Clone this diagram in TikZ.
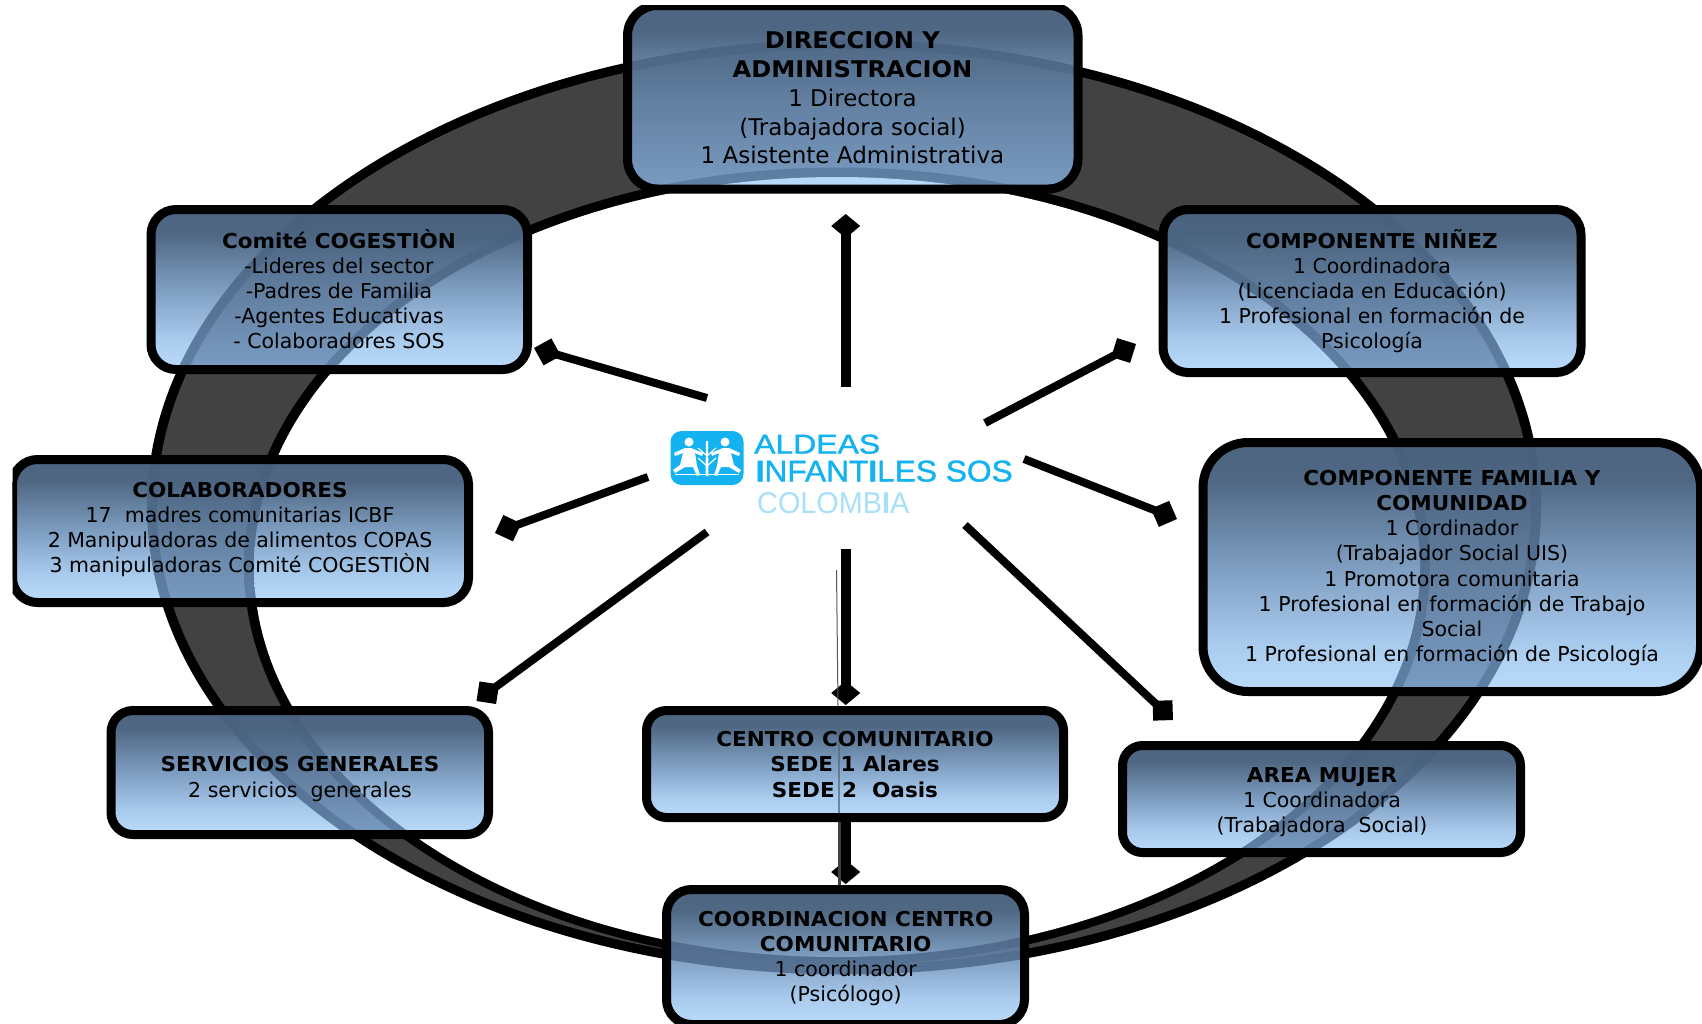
\documentclass[tikz,border=0pt]{standalone}
\usepackage{fontspec}
\setmainfont{DejaVu Sans}[BoldFeatures={FakeStretch=1.05}]
\newfontfamily\logofont{Liberation Sans}[FakeBold=1.2]
\newfontfamily\logolightfont{Liberation Sans}
\usetikzlibrary{arrows.meta}
\definecolor{ringgray}{HTML}{424242}
\definecolor{logoblue}{HTML}{14B2F0}
\definecolor{logolight}{HTML}{A8DFFB}
\definecolor{wa}{HTML}{4D6580}\definecolor{wb}{HTML}{4F6783}\definecolor{wc}{HTML}{7E9EC1}\definecolor{wd}{HTML}{A8CAEC}\definecolor{we}{HTML}{BBDCFB}
\definecolor{ga}{HTML}{4A627E}\definecolor{gb}{HTML}{4B6480}\definecolor{gc}{HTML}{617E9F}\definecolor{gd}{HTML}{7A9CC2}
\definecolor{ba}{HTML}{47607C}\definecolor{bb}{HTML}{49627F}\definecolor{bc}{HTML}{547091}\definecolor{bd}{HTML}{5F80A5}
\pgfdeclareverticalshading{wsh}{100bp}{color(0bp)=(we);color(25bp)=(we);color(35bp)=(wd);color(50bp)=(wc);color(67.5bp)=(wb);color(75bp)=(wa);color(100bp)=(wa)}
\pgfdeclareverticalshading{gsh}{100bp}{color(0bp)=(gd);color(25bp)=(gd);color(50bp)=(gc);color(67.5bp)=(gb);color(75bp)=(ga);color(100bp)=(ga)}
\pgfdeclareverticalshading{bsh}{100bp}{color(0bp)=(bd);color(25bp)=(bd);color(50bp)=(bc);color(67.5bp)=(bb);color(75bp)=(ba);color(100bp)=(ba)}
\def\panelfont{\fontsize{20.5}{25.1}\selectfont}
\def\panelextra{}
\tikzset{
  x=1pt,y=-1pt,
  wshade/.style={shading=wsh},
  gshade/.style={shading=gsh},
  bshade/.style={shading=bsh},
  panelbox/.style={draw=black,line width=9pt,inner sep=0pt,outer sep=0pt,shape=rectangle},
  paneltext/.style={align=center,inner sep=0pt,text=black,font=\panelfont},
  spoke/.style={line width=8pt,-{Diamond[length=28pt,width=28pt]}},
  vspoke/.style={line width=10pt,-{Diamond[length=24pt,width=29pt]}},
  logotext/.style={anchor=south west,inner sep=0pt,font=\logofont},
  elA/.style={x radius=697pt,y radius=467.5pt},
  elB/.style={x radius=687pt,y radius=458pt},
  elC/.style={x radius=593pt,y radius=399pt},
  elD/.style={x radius=583pt,y radius=390pt},
}
\newcommand{\panel}[9]{%
  \begin{scope}
    \clip[rounded corners=#6pt] (#2,#3) rectangle (#4,#5);
    \shade[wshade] (#2,#3) rectangle (#4,#5);
    \clip (844,507) ellipse [elA];
    \shade[bshade] (#2,#3) rectangle (#4,#5);
    \clip (844,507) ellipse [elB];
    \shade[gshade] (#2,#3) rectangle (#4,#5);
    \clip (837,566.5) ellipse [elC];
    \shade[bshade] (#2,#3) rectangle (#4,#5);
    \clip (837,567) ellipse [elD];
    \shade[wshade] (#2,#3) rectangle (#4,#5);
  \end{scope}
  \panelextra
  \node[panelbox,rounded corners=#6pt,minimum width={(#4-#2)*1pt},minimum height={(#5-#3)*1pt}]
    (#1) at ({(#2+#4)/2},{(#3+#5)/2}) {};
  \node[paneltext] (#1t) at (#7,#8) {#9};
}
\newcommand{\kid}[1]{%
  \fill[white] ({707+#1*18},442) circle [radius=4.5pt];
  \fill[white] ({707+#1*16},448) -- ({707+#1*22},448) -- ({707+#1*33},453) -- ({707+#1*32},456)
     -- ({707+#1*24},453) -- ({707+#1*27},465) -- ({707+#1*34},470) -- ({707+#1*32},473) -- ({707+#1*22},467)
     -- ({707+#1*14},467) -- ({707+#1*10},476) -- ({707+#1*7},475) -- ({707+#1*10},466) -- ({707+#1*12},453)
     -- ({707+#1*5},456) -- ({707+#1*4},453) -- cycle;
}
\begin{document}
\begin{tikzpicture}
\useasboundingbox (0,0) rectangle (1702,1023);
\begin{scope}
\clip (12.5,5) rectangle (1702,1025);
% ring
\fill[black] (844,507) ellipse [elA];
\fill[ringgray] (844,507) ellipse [elB];
\fill[black] (837,566.5) ellipse [elC];
\fill[white] (837,567) ellipse [elD];
% logo
\node[fill=logoblue,rounded corners=11pt,minimum width=73pt,minimum height=54pt,inner sep=0pt] (logo) at (707,458) {};
\kid{1}\kid{-1}
\fill[white] (706,441) -- (708,441) -- (708.5,476) -- (705.5,476) -- cycle;
\draw[white,line width=1.2pt] (707,456) -- (698,448) (707,456) -- (716,448) (707,466) -- (698,458) (707,466) -- (716,458);
\fill[white] (675,473.5) rectangle (739,475);
\node[logotext,text=logoblue] (logoa) at (754,454) {\resizebox{126pt}{19pt}{ALDEAS}};
\node[logotext,text=logoblue] (logob) at (755.5,482) {\resizebox{257pt}{21pt}{\textbf{I}NFANT\textbf{I}LES SOS}};
\node[logotext,text=logolight,font=\logolightfont] (logoc) at (757,514) {\resizebox{152pt}{21pt}{COLOMB\textbf{I}A}};
% connector ends
\coordinate (s1) at (845.7,387);  \coordinate (e1) at (845.7,214);
\coordinate (s2) at (707,398);    \coordinate (e2) at (534,348);
\coordinate (s3) at (985,423);    \coordinate (e3) at (1136,344);
\coordinate (s4) at (1024,459);   \coordinate (e4) at (1177,519);
\coordinate (s5) at (965,525);    \coordinate (e5) at (1173,720);
\coordinate (s6) at (845.7,549);  \coordinate (e6) at (845.7,705);
\coordinate (s7) at (648,477);    \coordinate (e7) at (495,533);
\coordinate (s8) at (707,532);    \coordinate (e8) at (476.5,701);
\coordinate (s9) at (845.7,817);  \coordinate (e9) at (845.7,884);
\coordinate (t1) at (836.5,570);  \coordinate (t2) at (838,706);
\coordinate (t3) at (839,706);    \coordinate (t4) at (839,822);
\coordinate (t5) at (839,822);    \coordinate (t6) at (839,890);
\draw[vspoke] (s1) -- (e1);
\draw[spoke] (s2) -- (e2);
\draw[spoke] (s3) -- (e3);
\draw[spoke] (s4) -- (e4);
\draw[spoke] (s5) -- (e5);
\draw[vspoke] (s6) -- (e6);
\draw[spoke] (s7) -- (e7);
\draw[spoke] (s8) -- (e8);
\draw[vspoke] (s9) -- (e9);
\draw[black!65,line width=1pt] (t1) -- (t2);
\draw[black!75,line width=3pt] (t5) -- (t6);
% panels
\def\panelfont{\fontsize{23}{28.8}\selectfont}
\panel{dir}{627.5}{5.5}{1078}{189}{30}{852.5}{98}{\textbf{DIRECCION Y}\\\textbf{ADMINISTRACION}\\1 Directora\\(Trabajadora social)\\1 Asistente Administrativa}
\def\panelfont{\fontsize{20.5}{25.1}\selectfont}
\panel{com}{151}{209.5}{527.5}{369.5}{25}{339}{289}{\textbf{Comité COGESTIÒN}\\-Lideres del sector\\-Padres de Familia\\-Agentes Educativas\\- Colaboradores SOS}
\panel{nin}{1163}{209.5}{1581}{372.5}{25}{1372}{291}{\textbf{COMPONENTE NIÑEZ}\\1 Coordinadora\\(Licenciada en Educación)\\1 Profesional en formación de\\Psicología}
\panel{col}{12.5}{459.5}{468.5}{602.5}{25}{240}{529.5}{\textbf{COLABORADORES}\\17~ madres comunitarias ICBF\\2 Manipuladoras de alimentos COPAS\\3 manipuladoras Comité COGESTIÒN}
\panel{fam}{1203}{442.5}{1700.5}{691.5}{45}{1452}{568}{\textbf{COMPONENTE FAMILIA Y}\\\textbf{COMUNIDAD}\\1 Cordinador\\(Trabajador Social UIS)\\1 Promotora comunitaria\\1 Profesional en formación de Trabajo\\Social\\1 Profesional en formación de Psicología}
\panel{ser}{111}{710.5}{488.5}{834.5}{22}{300}{779}{\textbf{SERVICIOS GENERALES}\\2 servicios~ generales}
\def\panelextra{\draw[black!35!wc,opacity=.7,line width=1.5pt] (t3) -- (t4);}
\panel{cen}{646.5}{710.5}{1063.5}{817.5}{20}{855}{764.5}{\textbf{CENTRO COMUNITARIO}\\\textbf{SEDE 1 Alares}\\\textbf{SEDE 2~ Oasis}}
\def\panelextra{}
\panel{muj}{1122.5}{745.5}{1520.5}{852.5}{20}{1322}{802.5}{\textbf{AREA MUJER}\\1 Coordinadora\\(Trabajadora~ Social)}
\panel{coo}{666.5}{889.5}{1024.5}{1024.5}{25}{845.7}{958.5}{\textbf{COORDINACION CENTRO}\\\textbf{COMUNITARIO}\\1 coordinador\\(Psicólogo)}
\end{scope}
\end{tikzpicture}
\end{document}
